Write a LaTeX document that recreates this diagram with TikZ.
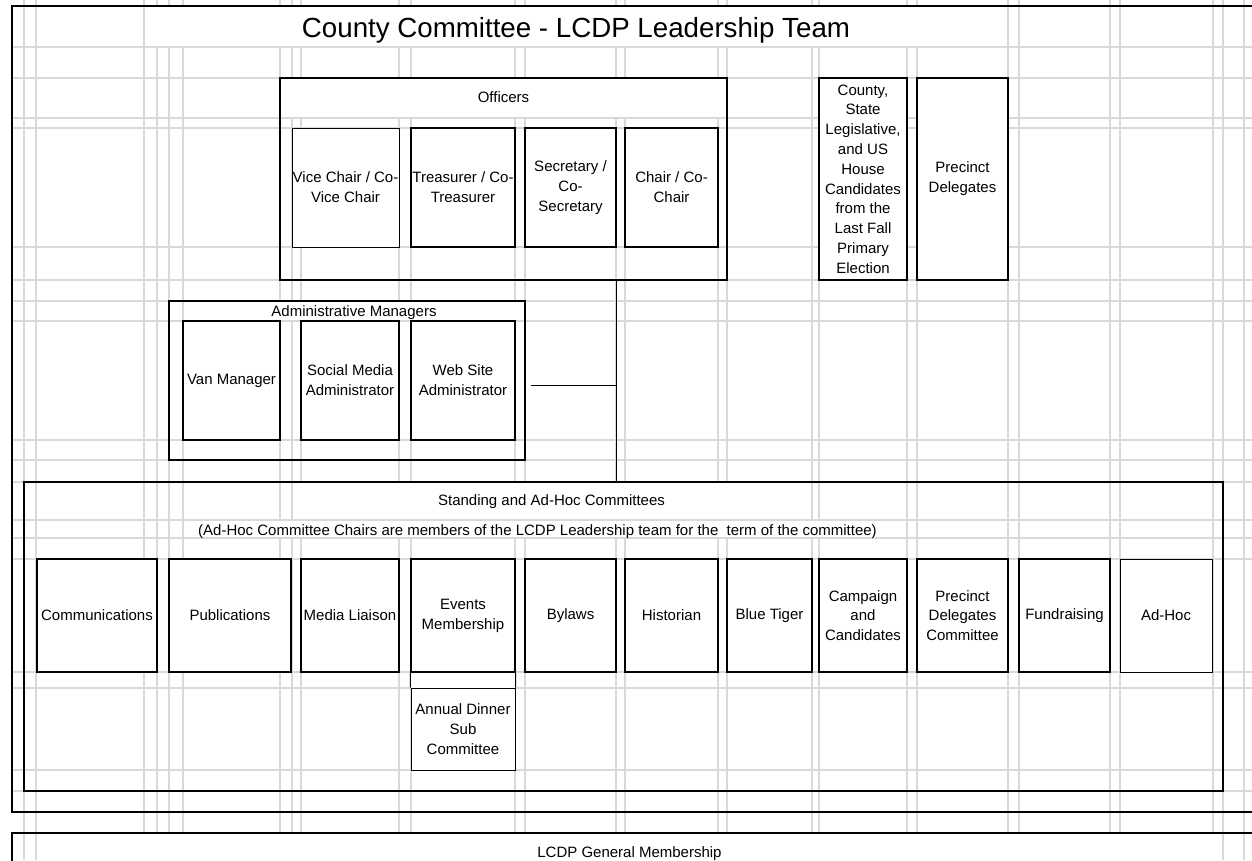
\documentclass[tikz,border=0pt]{standalone}
\usepackage{fontspec}
\setmainfont{Liberation Sans}
\newcommand\bodyfont{\fontsize{15}{19.8}\selectfont}
\newcommand\mkbox[7]{%
  \pgfmathsetmacro\mkw{#5-#3}%
  \pgfmathsetmacro\mkh{#6-#4}%
  \node[#1, minimum width=\mkw pt, minimum height=\mkh pt] (#2) at ({(#3+#5)/2},{(#4+#6)/2}) {#7};}
\tikzset{
  gridline/.style={draw=black!15, line width=1.1pt},
  cover/.style={fill=white, draw=none},
  bigbox/.style={draw=black, line width=2.2pt, inner sep=0pt},
  bigcell/.style={draw=black, fill=white, line width=2.2pt, inner sep=0pt, align=center, font=\bodyfont},
  cell/.style={draw=black, fill=white, line width=1.4pt, inner sep=0pt, align=center, font=\bodyfont},
  thincell/.style={cell, line width=1pt},
  lbl/.style={inner sep=0pt, font=\bodyfont, anchor=base},
  conn/.style={draw=black, line width=1pt}
}
\begin{document}
\begin{tikzpicture}[x=1pt,y=-1pt]
\useasboundingbox (0,0) rectangle (1252,860);
\fill[white] (0,0) rectangle (1252,860);
% spreadsheet grid
\foreach \gx in {24,36,144,157,169,183,280,292,301,399,411,515,525,616,625,718,727,812,819,907,917,1008,1019,1110,1120,1213,1223,1244}
  \draw[gridline] (\gx,0) -- (\gx,860);
\foreach \gy in {6,47,78,118,128,247,280,301,321,440,460,482,520,538,559,672,688,770,791,812,833}
  \draw[gridline] (12,\gy) -- (1252,\gy);
% merged regions
\fill[cover] (144.6,7) rectangle (1007.4,46.4);
\fill[cover] (281,79) rectangle (726,117.4);
\fill[cover] (183.6,302) rectangle (524,320.4);
\fill[cover] (292.6,483) rectangle (811.4,519.4);
\fill[cover] (183.6,520.6) rectangle (906.4,537.4);
\fill[cover] (36.6,834) rectangle (1222.4,860);
% frames
\mkbox{bigbox}{frame}{12}{6}{1280}{812}{}
\mkbox{bigbox}{general}{12}{833}{1280}{900}{}
\mkbox{bigbox}{officers}{280}{78}{727}{280}{}
\mkbox{bigbox}{admin}{169}{301}{525}{460}{}
\mkbox{bigbox}{standing}{24}{482}{1223}{791}{}
% officers
\mkbox{thincell}{vice}{292}{128}{399}{247}{Vice Chair / Co-\\Vice Chair}
\mkbox{cell}{treas}{411}{128}{515}{247}{Treasurer / Co-\\Treasurer}
\mkbox{cell}{secr}{525}{128}{616}{247}{Secretary /\\Co-\\Secretary}
\mkbox{cell}{chair}{625}{128}{718}{247}{Chair / Co-\\Chair}
\mkbox{bigcell}{cands}{819}{78}{907}{280}{County,\\State\\Legislative,\\and US\\House\\Candidates\\from the\\Last Fall\\Primary\\Election}
\mkbox{bigcell}{precinct}{917}{78}{1008}{280}{Precinct\\Delegates}
% administrative managers
\mkbox{cell}{van}{183}{321}{280}{440}{Van Manager}
\mkbox{cell}{social}{301}{321}{399}{440}{Social Media\\Administrator}
\mkbox{cell}{web}{411}{321}{515}{440}{Web Site\\Administrator}
% committees
\mkbox{cell}{comm}{37}{559}{157}{672}{Communications}
\mkbox{cell}{publ}{169}{559}{291}{672}{Publications}
\mkbox{cell}{media}{301}{559}{399}{672}{Media Liaison}
\mkbox{cell}{events}{411}{559}{515}{672}{Events\\Membership}
\mkbox{cell}{bylaws}{525}{559}{616}{672}{Bylaws}
\mkbox{cell}{hist}{625}{559}{718}{672}{Historian}
\mkbox{cell}{tiger}{727}{559}{812}{672}{Blue Tiger}
\mkbox{cell}{campaign}{819}{559}{907}{672}{Campaign\\and\\Candidates}
\mkbox{cell}{pdc}{917}{559}{1008}{672}{Precinct\\Delegates\\Committee}
\mkbox{cell}{fund}{1019}{559}{1110}{672}{Fundraising}
\mkbox{thincell}{adhoc}{1120}{559}{1212}{672}{Ad-Hoc}
\mkbox{thincell}{dinner}{411}{688}{515}{770}{Annual Dinner\\Sub\\Committee}
\fill[white] (events.south west) rectangle (dinner.north east);
\draw[conn] (events.south west) -- (dinner.north west);
\draw[conn] (events.south east) -- (dinner.north east);
% connectors
\coordinate (j) at (616,385);
\draw[conn] (officers.south -| j) -- (standing.north -| j);
\draw[conn] ([xshift=5pt]admin.east |- j) -- (j);
% labels
\node[lbl, font=\fontsize{27.7}{32}\selectfont] (title) at (576,37) {County Committee - LCDP Leadership Team};
\node[lbl] (offlbl) at (503.5,102) {Officers};
\node[lbl] (admlbl) at (354,316) {Administrative Managers};
\node[lbl] (stdlbl) at (551.5,505) {Standing and Ad-Hoc Committees};
\node[lbl] (sublbl) at (537.5,535) {(Ad-Hoc Committee Chairs are members of the LCDP Leadership team for the\ \ term of the committee)};
\node[lbl] (genlbl) at (629.5,857) {LCDP General Membership};
\end{tikzpicture}
\end{document}
